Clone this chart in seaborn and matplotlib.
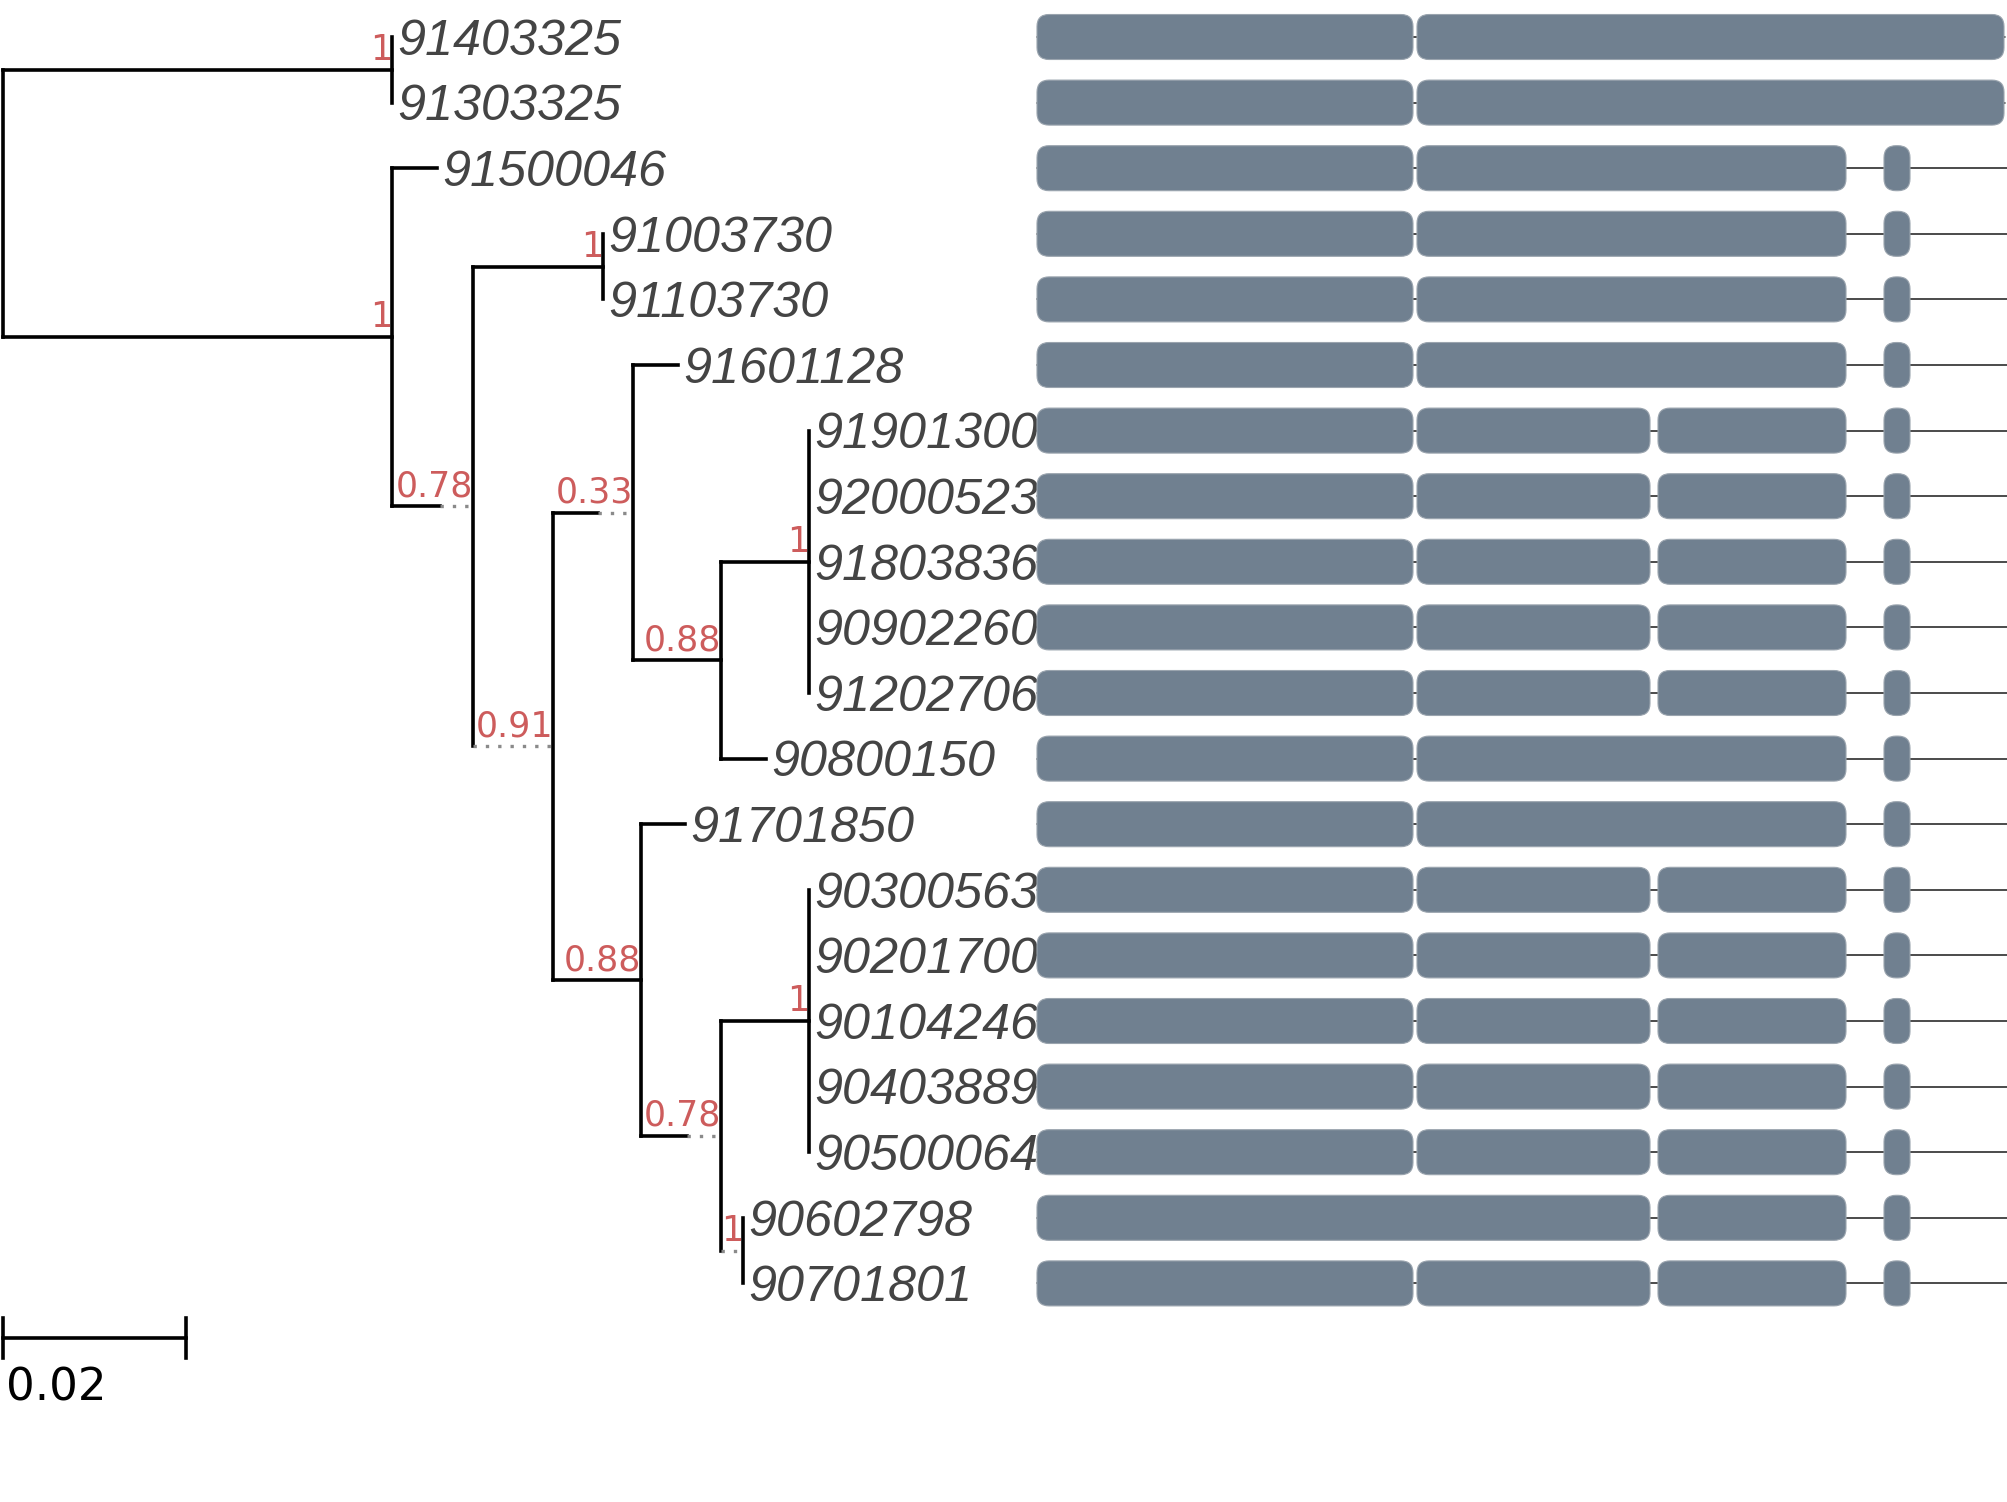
import matplotlib
matplotlib.use("Agg")
import matplotlib.pyplot as plt
from matplotlib.patches import FancyBboxPatch
import seaborn as sns
import pandas as pd

# ---------------- data ----------------
leaf_names = ["91403325", "91303325", "91500046", "91003730", "91103730", "91601128",
              "91901300", "92000523", "91803836", "90902260", "91202706", "90800150",
              "91701850", "90300563", "90201700", "90104246", "90403889", "90500064",
              "90602798", "90701801"]

edge_child = ["N1", "N2",
              "91403325", "91303325",
              "91500046", "N3",
              "N4", "N5",
              "91003730", "91103730",
              "N6", "N9",
              "91601128", "N7",
              "N8", "90800150",
              "91901300", "92000523", "91803836", "90902260", "91202706",
              "91701850", "N10",
              "N11", "N12",
              "90300563", "90201700", "90104246", "90403889", "90500064",
              "90602798", "90701801"]
edge_parent = ["R", "R",
               "N1", "N1",
               "N2", "N2",
               "N3", "N3",
               "N4", "N4",
               "N5", "N5",
               "N6", "N6",
               "N7", "N7",
               "N8", "N8", "N8", "N8", "N8",
               "N9", "N9",
               "N10", "N10",
               "N11", "N11", "N11", "N11", "N11",
               "N12", "N12"]
branch_len = [0.04257, 0.04257,
              0.0, 0.0,
              0.00492, 0.00885,
              0.01421, 0.00874,
              0.0, 0.0,
              0.00875, 0.00962,
              0.00492, 0.00961,
              0.00962, 0.00492,
              0.0, 0.0, 0.0, 0.0, 0.0,
              0.00481, 0.00874,
              0.00962, 0.00241,
              0.0, 0.0, 0.0, 0.0, 0.0,
              0.0, 0.0]
# part of each branch (at its tip end) drawn dotted
dotted_len = [0.0, 0.0,
              0.0, 0.0,
              0.0, 0.0036,
              0.0, 0.00874,
              0.0, 0.0,
              0.00383, 0.0,
              0.0, 0.0,
              0.0, 0.0,
              0.0, 0.0, 0.0, 0.0, 0.0,
              0.0, 0.00371,
              0.0, 0.00241,
              0.0, 0.0, 0.0, 0.0, 0.0,
              0.0, 0.0]

support_node = ["N1", "N2", "N3", "N4", "N5", "N6", "N7", "N8", "N9", "N10", "N11", "N12"]
support_val = ["1", "1", "0.78", "1", "0.91", "0.33", "0.88", "1", "0.88", "0.78", "1", "1"]

scale_len = 0.02
scale_label = "0.02"

# gene models (exon start, exon end), arbitrary bp units
model_A_starts = [0, 760]
model_A_ends = [752, 1934]
model_B_starts = [0, 760, 1694]
model_B_ends = [752, 1618, 1746]
model_C_starts = [0, 760, 1242, 1694]
model_C_ends = [752, 1226, 1618, 1746]
model_D_starts = [0, 1242, 1694]
model_D_ends = [1226, 1618, 1746]
gene_model = ["A", "A", "B", "B", "B", "B", "C", "C", "C", "C",
              "C", "B", "B", "C", "C", "C", "C", "C", "D", "C"]
gene_len = [1936, 1936, 1940, 1940, 1940, 1940, 1940, 1940, 1940, 1940,
            1940, 1940, 1940, 1940, 1940, 1940, 1940, 1940, 1940, 1940]

models = {"A": (model_A_starts, model_A_ends), "B": (model_B_starts, model_B_ends),
          "C": (model_C_starts, model_C_ends), "D": (model_D_starts, model_D_ends)}

# ---------------- layout ----------------
sns.set_theme(style="white")
W, H = 2007, 1502
fig = plt.figure(figsize=(W / 100, H / 100), dpi=100)
fig.patch.set_facecolor("white")

row0_px, row_px = 37.0, 65.6
tree_x0_px, tree_px_per_unit = 2.5, 9150.0
gene_x0_px, gene_units_per_px = 1037.0, 2.0
ylim = ((H - row0_px) / row_px, -row0_px / row_px)

ax_tree = fig.add_axes([0, 0, 1, 1])
ax_tree.set_xlim(-tree_x0_px / tree_px_per_unit, (W - tree_x0_px) / tree_px_per_unit)
ax_tree.set_ylim(*ylim)
ax_tree.axis("off")

ax_gene = fig.add_axes([0, 0, 1, 1])
ax_gene.set_xlim(-gene_x0_px * gene_units_per_px, (W - gene_x0_px) * gene_units_per_px)
ax_gene.set_ylim(*ylim)
ax_gene.axis("off")
ax_gene.patch.set_alpha(0)

# ---------------- tree geometry ----------------
children = {}
for c, p in zip(edge_child, edge_parent):
    children.setdefault(p, []).append(c)
xpos = {"R": 0.0}
for c, p, b in zip(edge_child, edge_parent, branch_len):
    xpos[c] = xpos[p] + b
ypos = {n: float(i) for i, n in enumerate(leaf_names)}


def get_y(n):
    if n in ypos:
        return ypos[n]
    ys = [get_y(c) for c in children[n]]
    ypos[n] = (min(ys) + max(ys)) / 2
    return ypos[n]


get_y("R")

rows = []
seg = 0
for c, p, d in zip(edge_child, edge_parent, dotted_len):
    x0, x1 = xpos[p], xpos[c] - d
    if x1 - x0 > 1e-9:
        rows += [(seg, x0, ypos[c]), (seg, x1, ypos[c])]
        seg += 1
for p, cs in children.items():
    ys = [ypos[c] for c in cs]
    rows += [(seg, xpos[p], min(ys)), (seg, xpos[p], max(ys))]
    seg += 1
# scale bar
sb_y = 19.83
rows += [(seg, 0.0, sb_y), (seg, scale_len, sb_y)]
seg += 1
rows += [(seg, 0.0, sb_y - 0.3), (seg, 0.0, sb_y + 0.3)]
seg += 1
rows += [(seg, scale_len, sb_y - 0.3), (seg, scale_len, sb_y + 0.3)]
seg += 1
seg_df = pd.DataFrame(rows, columns=["seg", "x", "y"])

sns.lineplot(data=seg_df, x="x", y="y", units="seg", estimator=None, sort=False,
             color="black", legend=False, ax=ax_tree)
for ln in ax_tree.lines:
    ln.set_linewidth(2.6)
    ln.set_solid_capstyle("projecting")
ax_tree.set_xlabel("")
ax_tree.set_ylabel("")

for c, p, d in zip(edge_child, edge_parent, dotted_len):
    if d > 0:
        ax_tree.plot([xpos[c] - d, xpos[c]], [ypos[c], ypos[c]], color="#8a8a8a",
                     lw=2.4, linestyle=(0, (1, 2.7)), dash_capstyle="butt")

# leaf labels
for n in leaf_names:
    ax_tree.text(xpos[n] + 0.00055, ypos[n] + 0.27, n, ha="left", va="baseline",
                 fontsize=36.3, fontstyle="italic", color="#444444",
                 family=["Liberation Sans", "DejaVu Sans"])

# support labels
for n, s in zip(support_node, support_val):
    ax_tree.text(xpos[n], ypos[n] - 0.15, s, ha="right", va="baseline",
                 fontsize=25, color="#cd5c5c", family=["DejaVu Sans"])

ax_tree.text(0.0004, 20.78, scale_label, ha="left", va="baseline", fontsize=32.5,
             color="black", family=["DejaVu Sans"])

# ---------------- gene structures ----------------
exon_h = 0.686
aspect = (1.0 / row_px) / gene_units_per_px
for i, (m, L) in enumerate(zip(gene_model, gene_len)):
    ax_gene.plot([0, L], [i, i], color="#1a1a1a", lw=1.1, zorder=1)
    starts, ends = models[m]
    for s, e in zip(starts, ends):
        box = FancyBboxPatch((s, i - exon_h / 2), e - s, exon_h,
                             boxstyle="round,pad=0,rounding_size=24",
                             mutation_aspect=aspect, facecolor="#708090",
                             edgecolor="#9aa4ae", lw=0.8, zorder=2)
        ax_gene.add_patch(box)

fig.savefig("out.png", dpi=100)
